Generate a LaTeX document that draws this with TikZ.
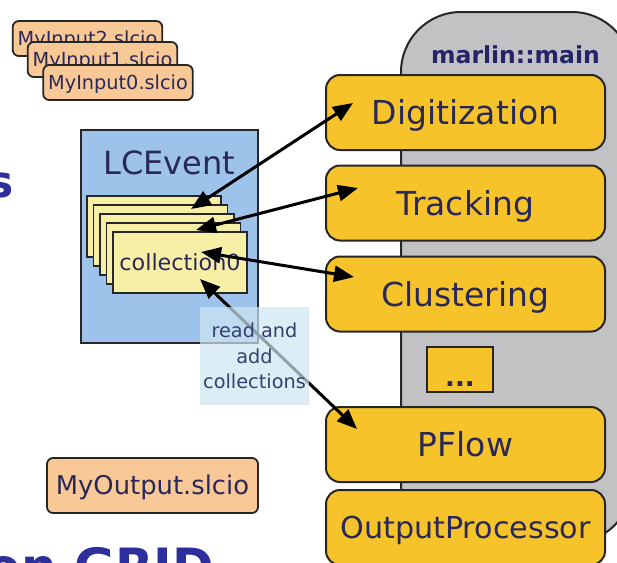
\documentclass[tikz,border=0pt]{standalone}
\usepackage{fontspec}
\setmainfont{DejaVu Sans}
\usetikzlibrary{arrows.meta}
\definecolor{ink}{HTML}{2A2858}
\definecolor{titleblue}{HTML}{2C2F9C}
\definecolor{peach}{HTML}{F8C896}
\definecolor{eventblue}{HTML}{9DC3EA}
\definecolor{cardyellow}{HTML}{F8EFA6}
\definecolor{procyellow}{HTML}{F6C42A}
\definecolor{maingrey}{HTML}{C2C2C4}
\definecolor{labelblue}{HTML}{CEE6F3}
\definecolor{labelink}{HTML}{34406E}
\tikzset{
  filebox/.style={draw=black!85, fill=peach, rounded corners=6pt, line width=1.8pt,
    minimum width=149.5pt, minimum height=35pt, inner sep=0pt, text=ink,
    font=\fontsize{19.3}{22}\selectfont, text height=14pt, text depth=0pt},
  card/.style={draw=black!85, fill=cardyellow, line width=1.8pt,
    minimum width=134pt, minimum height=61pt, inner sep=0pt},
  procbox/.style={draw=black!85, fill=procyellow, rounded corners=14pt, line width=2pt,
    minimum width=279pt, minimum height=75pt, inner sep=0pt, text=ink,
    font=\fontsize{33}{36}\selectfont, text height=24pt, text depth=0pt},
  rw/.style={{Triangle[length=20pt,width=16pt]}-{Triangle[length=20pt,width=16pt]},
    line width=3pt, draw=black},
}
\begin{document}
\begin{tikzpicture}[x=1pt,y=-1pt]
\clip (0,0) rectangle (617,562);
\fill[white] (0,0) rectangle (617,562);

% cut-off title words of the slide
\node[anchor=base east, inner sep=0pt, text=titleblue,
  font=\fontsize{44}{48}\selectfont\bfseries] (tail) at (14,197) {s};
\node[anchor=base east, inner sep=0pt, text=titleblue,
  font=\fontsize{50}{54}\selectfont\bfseries] (grid) at (214,584.5) {on GRID};

% input files
\node[filebox] (in2) at (87.5,38.5) {MyInput2.slcio};
\node[filebox] (in1) at (102.5,59.5) {MyInput1.slcio};
\node[filebox] (in0) at (118,82.5) {MyInput0.slcio};

% output file
\node[filebox, minimum width=211pt, minimum height=55pt,
  font=\fontsize{25.8}{28}\selectfont, text height=18.8pt] (out) at (152.5,485.5) {MyOutput.slcio};

% the event with its collections
\node[draw=black!85, fill=eventblue, line width=2pt, minimum width=177pt,
  minimum height=213pt, inner sep=0pt] (event) at (169.5,236.5) {};
\node[text=ink, inner sep=0pt, font=\fontsize{32}{34}\selectfont,
  text height=23.3pt, text depth=0pt] (eventname) at (169.5,162.5) {LCEvent};
\node[card] (card4) at (154,226.5) {};
\node[card] (card3) at (160.5,235.5) {};
\node[card] (card2) at (167,244.5) {};
\node[card] (card1) at (173.5,253.5) {};
\node[card, text=ink, font=\fontsize{22.3}{24}\selectfont, text height=16pt,
  text depth=0pt] (coll) at (180,262.5) {collection0};

% the marlin main loop
\filldraw[fill=maingrey, draw=black!85, line width=2pt, rounded corners=60pt]
  (401,12) rectangle (632,543);
\node[anchor=base, inner sep=0pt, text=ink!90!blue,
  font=\fontsize{23.5}{26}\selectfont\bfseries] (mainname) at (515.5,63) {marlin::main};

\node[procbox] (dig) at (465.5,112.5) {Digitization};
\node[procbox] (trk) at (465.5,203) {Tracking};
\node[procbox] (clu) at (465.5,294) {Clustering};
\node[draw=black!85, fill=procyellow, line width=2pt, minimum width=66pt,
  minimum height=45pt, inner sep=0pt] (more) at (460,369.5) {};
\node[anchor=base, inner sep=0pt, text=ink, font=\fontsize{26}{28}\selectfont\bfseries]
  (dots) at (460,386) {...};
\node[procbox] (pfl) at (465.5,444.5) {PFlow};
\node[procbox, font=\fontsize{30.2}{33}\selectfont, text height=22pt] (outp) at (465.5,527.5) {OutputProcessor};

% arrow ends
\coordinate (c-dig) at (191,209);
\coordinate (p-dig) at (353,103);
\coordinate (c-trk) at (196,230);
\coordinate (p-trk) at (358,188);
\coordinate (c-clu) at (201,252);
\coordinate (p-clu) at (354,277);
\coordinate (c-pfl) at (200,279);
\coordinate (p-pfl) at (357,429);

\draw[rw] (c-dig) -- (p-dig);
\draw[rw] (c-trk) -- (p-trk);
\draw[rw] (c-clu) -- (p-clu);
\draw[rw] (c-pfl) -- (p-pfl);

% translucent note over the read/write arrow
\node[fill=labelblue, fill opacity=0.7, text opacity=1, text=labelink,
  minimum width=109pt, minimum height=98pt, inner sep=0pt, align=center,
  font=\fontsize{19.3}{25.5}\selectfont] (note) at (254.5,356)
  {read and\\add\\collections};
\end{tikzpicture}
\end{document}
